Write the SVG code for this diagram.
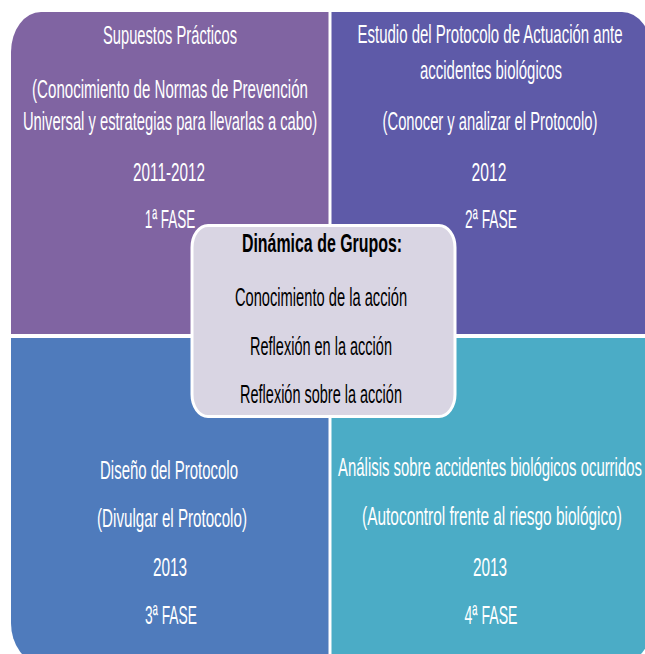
<svg xmlns="http://www.w3.org/2000/svg" width="645" height="654" viewBox="0 0 645 654">
  <style>
    .q { stroke: none; }
    text { font-family: "Liberation Sans", Arial, sans-serif; font-size: 26px; text-anchor: middle; }
    .t { fill: #ffffff; }
    .c { fill: #000000; }
    .h { font-weight: bold; }
  </style>
  <rect x="0" y="0" width="645" height="654" fill="#ffffff"/>

  <!-- Phase 1: top left -->
  <g id="fase1">
    <path class="q" fill="#8064a2" d="M11,52 A30,40 0 0 1 41,12 L328.5,12 L328.5,334 L11,334 Z"/>
    <text class="t" transform="translate(170,44) scale(0.57,1)" textLength="235" lengthAdjust="spacingAndGlyphs">Supuestos Prácticos</text>
    <text class="t" transform="translate(170,98) scale(0.57,1)" textLength="484" lengthAdjust="spacingAndGlyphs">(Conocimiento de Normas de Prevención</text>
    <text class="t" transform="translate(170,130) scale(0.57,1)" textLength="516" lengthAdjust="spacingAndGlyphs">Universal y estrategias para llevarlas a cabo)</text>
    <text class="t" transform="translate(169,181) scale(0.57,1)" textLength="126" lengthAdjust="spacingAndGlyphs">2011-2012</text>
    <text class="t" transform="translate(170,228) scale(0.57,1)" textLength="89" lengthAdjust="spacingAndGlyphs">1ª FASE</text>
  </g>

  <!-- Phase 2: top right -->
  <g id="fase2">
    <path class="q" fill="#5e5aa8" d="M331.5,12 L622,12 A30,40 0 0 1 652,52 L652,334 L331.5,334 Z"/>
    <text class="t" transform="translate(490,43) scale(0.57,1)" textLength="465" lengthAdjust="spacingAndGlyphs">Estudio del Protocolo de Actuación ante</text>
    <text class="t" transform="translate(491,79) scale(0.57,1)" textLength="249" lengthAdjust="spacingAndGlyphs">accidentes biológicos</text>
    <text class="t" transform="translate(490,130) scale(0.57,1)" textLength="377" lengthAdjust="spacingAndGlyphs">(Conocer y analizar el Protocolo)</text>
    <text class="t" transform="translate(489,181) scale(0.57,1)" textLength="61" lengthAdjust="spacingAndGlyphs">2012</text>
    <text class="t" transform="translate(491,228) scale(0.57,1)" textLength="91" lengthAdjust="spacingAndGlyphs">2ª FASE</text>
  </g>

  <!-- Phase 3: bottom left -->
  <g id="fase3">
    <path class="q" fill="#4f7bbc" d="M11,338 L328.5,338 L328.5,663 L41,663 A30,40 0 0 1 11,623 Z"/>
    <text class="t" transform="translate(169,479) scale(0.57,1)" textLength="242" lengthAdjust="spacingAndGlyphs">Diseño del Protocolo</text>
    <text class="t" transform="translate(172,527) scale(0.57,1)" textLength="263" lengthAdjust="spacingAndGlyphs">(Divulgar el Protocolo)</text>
    <text class="t" transform="translate(170,576) scale(0.57,1)" textLength="60" lengthAdjust="spacingAndGlyphs">2013</text>
    <text class="t" transform="translate(171,624) scale(0.57,1)" textLength="91" lengthAdjust="spacingAndGlyphs">3ª FASE</text>
  </g>

  <!-- Phase 4: bottom right -->
  <g id="fase4">
    <path class="q" fill="#4bacc6" d="M331.5,338 L652,338 L652,623 A30,40 0 0 1 622,663 L331.5,663 Z"/>
    <text class="t" transform="translate(490,476) scale(0.57,1)" textLength="533" lengthAdjust="spacingAndGlyphs">Análisis sobre accidentes biológicos ocurridos</text>
    <text class="t" transform="translate(492,525) scale(0.57,1)" textLength="456" lengthAdjust="spacingAndGlyphs">(Autocontrol frente al riesgo biológico)</text>
    <text class="t" transform="translate(490,576) scale(0.57,1)" textLength="60" lengthAdjust="spacingAndGlyphs">2013</text>
    <text class="t" transform="translate(491,624) scale(0.57,1)" textLength="93" lengthAdjust="spacingAndGlyphs">4ª FASE</text>
  </g>

  <!-- Central box: group dynamics -->
  <g id="dinamica">
    <rect x="192" y="225.5" width="263" height="191" rx="16" ry="22" fill="#d9d5e3" stroke="#ffffff" stroke-width="3"/>
    <text class="c h" transform="translate(322,252) scale(0.57,1)" textLength="281" lengthAdjust="spacingAndGlyphs">Dinámica de Grupos:</text>
    <text class="c" transform="translate(321,306) scale(0.57,1)" textLength="302" lengthAdjust="spacingAndGlyphs">Conocimiento de la acción</text>
    <text class="c" transform="translate(321,355) scale(0.57,1)" textLength="249" lengthAdjust="spacingAndGlyphs">Reflexión en la acción</text>
    <text class="c" transform="translate(321,403) scale(0.57,1)" textLength="284" lengthAdjust="spacingAndGlyphs">Reflexión sobre la acción</text>
  </g>

  <g id="connectors"></g>
</svg>
